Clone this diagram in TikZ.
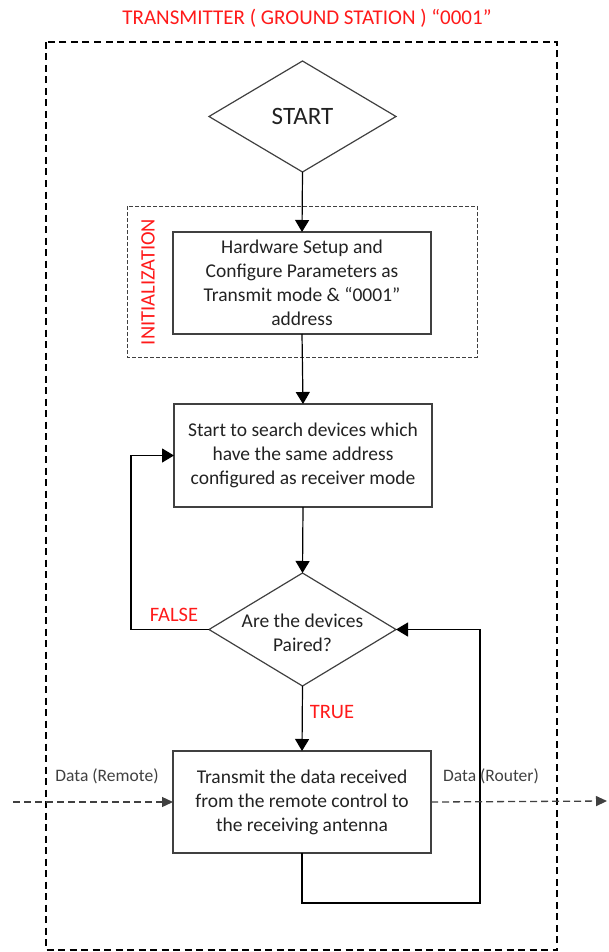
\documentclass[tikz,border=0pt]{standalone}
\usepackage{fontspec}
\setmainfont{Carlito}
\usetikzlibrary{shapes.geometric,arrows.meta}
\definecolor{linegray}{HTML}{404040}
\definecolor{textdark}{HTML}{222222}
\definecolor{lblred}{HTML}{FF1A1A}
\begin{document}
\begin{tikzpicture}[x=1pt,y=-1pt,
  procbox/.style={draw=linegray, line width=1.2pt, minimum width=258pt,
    minimum height=102pt, inner sep=0pt, outer sep=0pt, align=center,
    text=textdark, font=\fontsize{19.5}{24}\selectfont},
  decision/.style={diamond, draw=linegray, line width=1.2pt, inner sep=0pt,
    outer sep=0pt, minimum width=187pt, text=textdark},
  boxtext/.style={align=center, inner sep=0pt, text=textdark,
    font=\fontsize{19.5}{24}\selectfont},
  redlbl/.style={text=lblred, inner sep=0pt, font=\fontsize{20.5}{24}\selectfont},
  datalbl/.style={text=linegray, inner sep=0pt, font=\fontsize{17.5}{20}\selectfont},
  flow/.style={draw=black, line width=1.2pt, -{Triangle[width=14pt,length=12pt]}},
  dataflow/.style={draw=linegray, line width=1.3pt, dash pattern=on 7pt off 4pt,
    -{Triangle[width=10pt,length=11pt]}},
  outerframe/.style={draw=black, line width=2.2pt, dash pattern=on 7pt off 4.5pt},
  initframe/.style={draw=linegray, line width=0.9pt, dash pattern=on 4pt off 2pt}
]
\useasboundingbox (0,0) rectangle (608,952);

% title and ground-station frame
\node[redlbl, font=\fontsize{21}{24}\selectfont] (title) at (307,18)
  {TRANSMITTER ( GROUND STATION ) “0001”};
\draw[outerframe] (46,42) rectangle (557,950);

% initialization group
\draw[initframe] (127,206) rectangle (477,357);
\node[redlbl, rotate=90] (initlbl) at (148,282) {INITIALIZATION};

% flow steps
\node[decision, minimum height=111pt, font=\fontsize{25}{28}\selectfont]
  (start) at (302.5,116.5) {START};
\node[procbox] (hw) at (302,283)
  {Hardware Setup and\\Configure Parameters as\\Transmit mode \& “0001”\\address};
\node[procbox, minimum height=103pt] (search) at (303,455.5)
  {Start to search devices which\\have the same address\\configured as receiver mode};
\node[decision, minimum height=113pt] (paired) at (302.5,629.5) {};
\node[boxtext] (pairedtxt) at (302.5,633) {Are the devices\\Paired?};
\node[procbox] (tx) at (302,802)
  {Transmit the data received\\from the remote control to\\the receiving antenna};

% connectors
\draw[flow] (start.south) -- (hw.north);
\draw[flow] (hw.south) -- (search.north);
\draw[flow] (search.south) -- (paired.north);
\draw[flow] (paired.west) -- ++(-78,0) |- (search.west);
\draw[flow] (paired.south) -- (tx.north);
\draw[flow] (tx.south) |- (480,903) |- (paired.east);

\node[redlbl] (falselbl) at (174,615) {FALSE};
\node[redlbl] (truelbl) at (332,712) {TRUE};

% data in / out
\coordinate (remotein) at (13,802);
\coordinate (routerout) at (607,801);
\draw[dataflow] (remotein) -- (tx.west);
\draw[dataflow] (tx.east) -- (routerout);
\node[datalbl] (remlbl) at (107,776) {Data (Remote)};
\node[datalbl] (roulbl) at (491,776) {Data (Router)};
\end{tikzpicture}
\end{document}
